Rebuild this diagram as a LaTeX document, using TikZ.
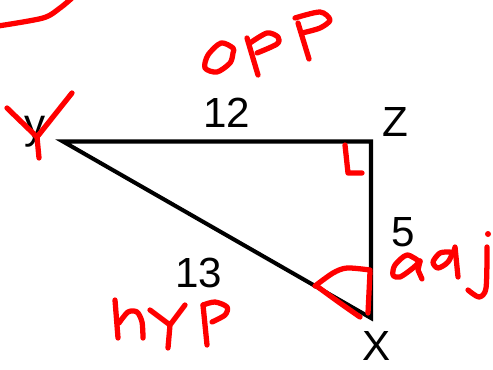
\documentclass[tikz,border=0pt]{standalone}
\usepackage{fontspec}
\setmainfont{Liberation Sans}
\tikzset{
    ink/.style={red,line width=3pt,line cap=round,line join=round},
    lbl/.style={inner sep=0pt,font=\fontsize{24}{28}\selectfont}
}

\begin{document}
\begin{tikzpicture}[x=0.02cm,y=-0.02cm]
    \useasboundingbox (0,0) rectangle (493,369);
    % triangle
    \coordinate (Y) at (63,141.5);
    \coordinate (Z) at (371,141.5);
    \coordinate (X) at (371,318);
    \draw[line width=2.3pt] (Y) -- (Z) -- (X) -- cycle;
    \node[lbl] (vy) at (35,132) {y};
    \node[lbl] (vz) at (395,122) {Z};
    \node[lbl] (vx) at (377,346) {X};
    \node[lbl] (side12) at (227,113) {12};
    \node[lbl] (side5) at (403,232) {5};
    \node[lbl] (side13) at (199,273) {13};
    % red marker notes
    \draw[ink] plot[smooth] coordinates {(-2,26) (43,18) (60,8) (72,-2)};
    \draw[ink] plot[smooth cycle] coordinates {(233,48) (221,43) (208,55) (205,68) (217,72) (230,63) (233,53)};
    \draw[ink] (247,38) -- (258,75);
    \draw[ink] plot[smooth] coordinates {(250,43) (267,33) (278,37) (277,44) (257,53)};
    \draw[ink] (298,23) -- (309,59);
    \draw[ink] plot[smooth] coordinates {(295,18) (320,12) (330,20) (320,28) (302,33)};
    \draw[ink] (7,108) -- (37,137) -- (72,93) (37,137) -- (39,158);
    \draw[ink] (345,145) -- (348,173) -- (362,173);
    % hyp
    \draw[ink] (115,300) -- (118,338);
    \draw[ink] plot[smooth] coordinates {(119,323) (128,312) (137,312) (142,322) (143,338)};
    \draw[ink] (150,310) -- (170,325) -- (185,305) (170,325) -- (168,348);
    \draw[ink] (203,305) -- (207,345);
    \draw[ink] plot[smooth] coordinates {(203,305) (215,302) (227,307) (225,315) (212,322)};
    % angle at X
    \draw[ink] plot[smooth] coordinates {(315,286) (333,273) (347,268) (370,270)};
    \draw[ink] plot[smooth] coordinates {(318,287) (340,303) (360,317)};
    \draw[ink] (370,272) -- (368,313);
    % adj
    \draw[ink] plot[smooth] coordinates {(420,262) (407,255) (395,265) (393,275) (400,277) (413,268) (420,261)};
    \draw[ink] (420,261) -- (418,270) -- (422,279);
    \draw[ink] plot[smooth] coordinates {(450,252) (440,253) (433,262) (438,268) (448,262) (455,248)};
    \draw[ink] (455,247) -- (458,277);
    \draw[ink] plot[smooth] coordinates {(487,247) (486,288) (479,297) (468,290)};
    \fill[red] (488,234) circle (3);
\end{tikzpicture}
\end{document}
